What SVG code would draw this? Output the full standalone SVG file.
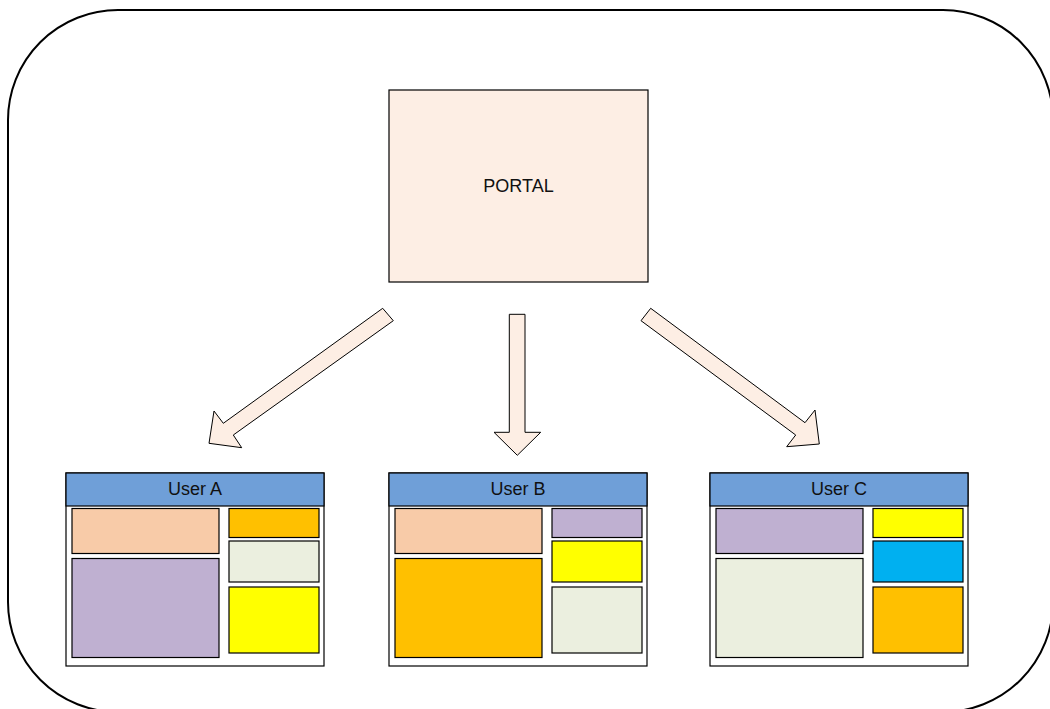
<svg xmlns="http://www.w3.org/2000/svg" width="1050" height="709" viewBox="0 0 1050 709">
  <style>
    .frame { fill: #ffffff; stroke: #000000; stroke-width: 2; }
    .portal { fill: #FDEEE4; stroke: #000000; stroke-width: 1.2; }
    .arrow { fill: #FDEEE4; stroke: #000000; stroke-width: 1; stroke-linejoin: miter; }
    .panel { fill: #ffffff; stroke: #000000; stroke-width: 1.2; }
    .header { fill: #6F9FD8; stroke: #000000; stroke-width: 1.2; }
    .tile { stroke: #000000; stroke-width: 1.2; }
    .peach { fill: #F8CBA8; }
    .lilac { fill: #BFB0D1; }
    .amber { fill: #FFC000; }
    .sage { fill: #EBEFDF; }
    .lemon { fill: #FFFF00; }
    .sky { fill: #00B0F0; }
    .label { font-family: "Liberation Sans", Arial, sans-serif; font-size: 18px; fill: #111111; text-anchor: middle; }
  </style>

  <!-- outer rounded frame -->
  <rect class="frame" x="8" y="10" width="1045" height="702" rx="110" ry="110"/>

  <!-- portal -->
  <g id="portal">
    <rect class="portal" x="389" y="90" width="259" height="192"/>
    <text class="label" x="518.5" y="192">PORTAL</text>
  </g>

  <!-- block arrows from the portal to each user view -->
  <g id="connectors">
    <polygon class="arrow" points="382.7,308.3 393.3,320.7 233.3,435 241.7,447.7 209,443.3 214,411 223.3,423.3"/>
    <polygon class="arrow" points="509.3,314.3 525,314.3 525,432.3 540.7,432.3 517.3,455.3 494,432.3 509.3,432.3"/>
    <polygon class="arrow" points="650.7,308.3 641,320.7 795.7,435 786.7,446.7 819.3,444 815,410 805,422.7"/>
  </g>

  <!-- user A -->
  <g id="user-a" transform="translate(0,0)">
    <rect class="panel" x="66" y="473" width="258" height="193"/>
    <rect class="header" x="66" y="473" width="258" height="33"/>
    <text class="label" x="195" y="495">User A</text>
    <rect class="tile peach" x="72" y="508.5" width="147" height="45"/>
    <rect class="tile lilac" x="72" y="558.5" width="147" height="99"/>
    <rect class="tile amber" x="229" y="508.5" width="90" height="29"/>
    <rect class="tile sage" x="229" y="541" width="90" height="41"/>
    <rect class="tile lemon" x="229" y="587" width="90" height="66"/>
  </g>

  <!-- user B -->
  <g id="user-b" transform="translate(323,0)">
    <rect class="panel" x="66" y="473" width="258" height="193"/>
    <rect class="header" x="66" y="473" width="258" height="33"/>
    <text class="label" x="195" y="495">User B</text>
    <rect class="tile peach" x="72" y="508.5" width="147" height="45"/>
    <rect class="tile amber" x="72" y="558.5" width="147" height="99"/>
    <rect class="tile lilac" x="229" y="508.5" width="90" height="29"/>
    <rect class="tile lemon" x="229" y="541" width="90" height="41"/>
    <rect class="tile sage" x="229" y="587" width="90" height="66"/>
  </g>

  <!-- user C -->
  <g id="user-c" transform="translate(644,0)">
    <rect class="panel" x="66" y="473" width="258" height="193"/>
    <rect class="header" x="66" y="473" width="258" height="33"/>
    <text class="label" x="195" y="495">User C</text>
    <rect class="tile lilac" x="72" y="508.5" width="147" height="45"/>
    <rect class="tile sage" x="72" y="558.5" width="147" height="99"/>
    <rect class="tile lemon" x="229" y="508.5" width="90" height="29"/>
    <rect class="tile sky" x="229" y="541" width="90" height="41"/>
    <rect class="tile amber" x="229" y="587" width="90" height="66"/>
  </g>
</svg>
